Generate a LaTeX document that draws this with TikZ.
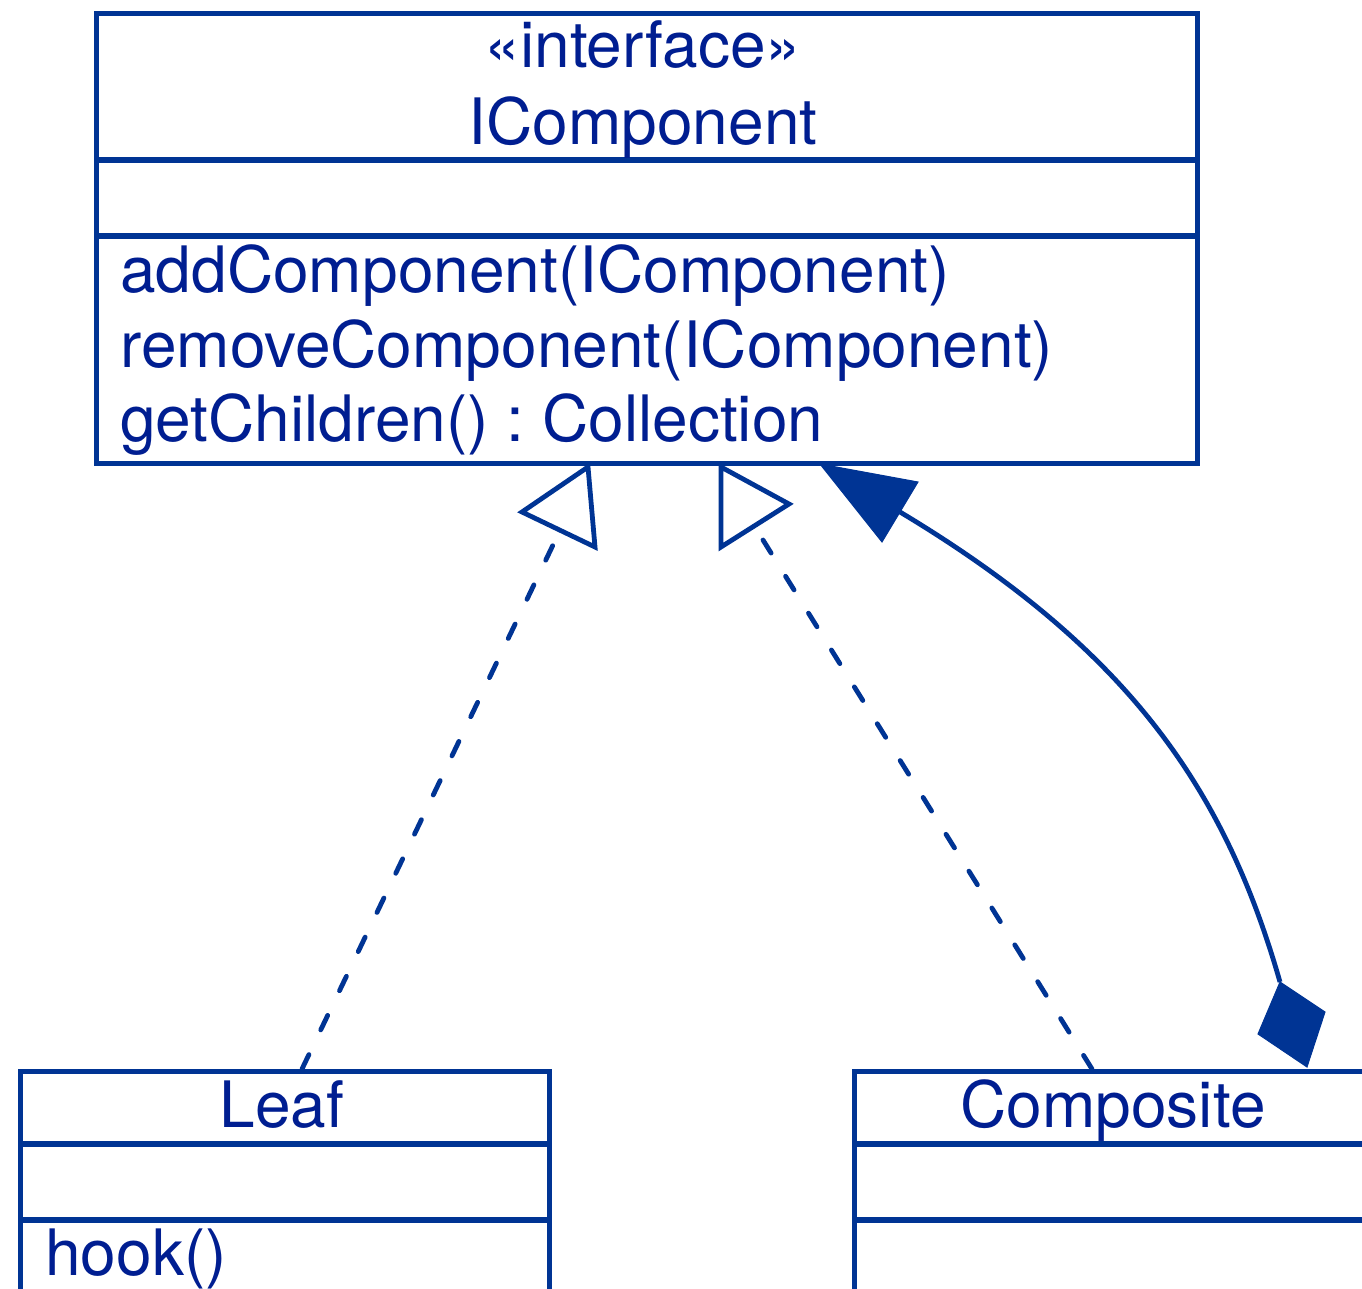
\documentclass[tikz,border=0pt]{standalone}
\usepackage{fontspec}
\setmainfont{TeX Gyre Heros}
\frenchspacing
\definecolor{umlline}{RGB}{0,52,148}
\definecolor{umltext}{RGB}{0,30,145}
\begin{document}
\begin{tikzpicture}[x=0.5pt,y=-0.5pt,
  classbox/.style={draw=umlline, line width=2.6pt, rectangle, inner sep=0pt, anchor=north west},
  divider/.style={draw=umlline, line width=2.6pt},
  umltxt/.style={text=umltext, font=\fontsize{32}{37.5}\selectfont, inner sep=0pt},
  dashline/.style={draw=umlline, line width=2.4pt, line cap=round, dash pattern=on 8pt off 13.7pt},
  opentri/.style={draw=umlline, line width=2.4pt, fill=white, line join=miter},
  solidhead/.style={fill=umlline, draw=umlline, line width=0.5pt},
  assoc/.style={draw=umlline, line width=2.4pt}]
\clip (0,0) rectangle (1362,1289);
\fill[white] (0,0) rectangle (1362,1289);

% interface IComponent
\node[classbox, minimum width=550.5pt, minimum height=225pt] (icomp) at (94,11) {};
\draw[divider] (94,160) -- (1195,160);
\draw[divider] (94,236) -- (1195,236);
\node[umltxt, anchor=base] (stereo) at (643,68) {«interface»};
\node[umltxt, anchor=base] (icname) at (643,145) {IComponent};
\node[umltxt, anchor=base west] (m1) at (120,293) {addComponent(IComponent)};
\node[umltxt, anchor=base west] (m2) at (120,368) {removeComponent(IComponent)};
\node[umltxt, anchor=base west] (m3) at (120,442) {getChildren() : Collection};

% class Leaf
\node[classbox, minimum width=264.5pt, minimum height=200pt] (leaf) at (18,1069) {};
\draw[divider] (18,1144) -- (547,1144);
\draw[divider] (18,1220) -- (547,1220);
\node[umltxt, anchor=base] (leafname) at (282,1127) {Leaf};
\node[umltxt, anchor=base west] (hook) at (45,1275) {hook()};

% class Composite
\node[classbox, minimum width=400pt, minimum height=200pt] (comp) at (852,1069) {};
\draw[divider] (852,1144) -- (1700,1144);
\draw[divider] (852,1220) -- (1700,1220);
\node[umltxt, anchor=base] (compname) at (1113,1127) {Composite};

% realization: Leaf -> IComponent
\coordinate (leafhead) at (553,545);
\draw[dashline] (302,0 |- leaf.north) -- (leafhead);
\draw[opentri] (522,512) -- (588,467) -- (595,547) -- cycle;

% realization: Composite -> IComponent
\coordinate (comphead) at (763,540);
\draw[dashline] (1092,0 |- comp.north) -- (comphead);
\draw[opentri] (721,467) -- (721,547) -- (789,504) -- cycle;

% composition: Composite aggregates IComponent
\coordinate (diatop) at (1280,982);
\coordinate (assochead) at (900,512);
\draw[assoc] (diatop) .. controls (1225,790) and (1130,650) .. (assochead);
\fill[solidhead] (820,464) -- (918,482) -- (882,542) -- cycle;
\fill[solidhead] (diatop) -- (1325,1012) -- (1307,1067) -- (1258,1034) -- cycle;
\end{tikzpicture}
\end{document}
